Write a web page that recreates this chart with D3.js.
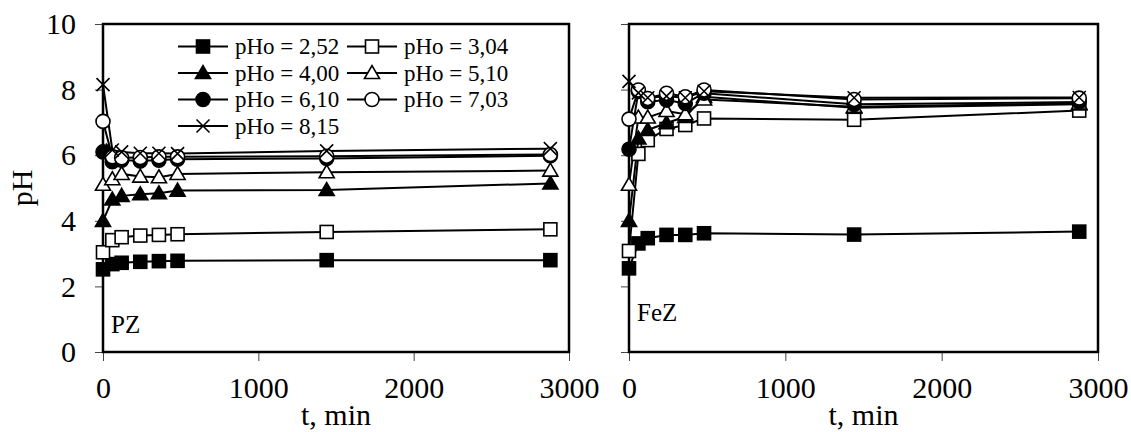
<html>
<head>
<title>pH vs time, PZ and FeZ</title>
<script src="https://cdn.jsdelivr.net/npm/d3@7/dist/d3.min.js"></script>
<style>
body { margin: 0; background: white; }
text { font-family: "Times New Roman", "Liberation Serif", Tinos, Times, serif; fill: black; }
</style>
</head>
<body>
<div id="svg"></div>
<script type="text/javascript">
// sampling times, min
var times = [0, 60, 120, 240, 360, 480, 1440, 2880];

var seriesLabels = ["pHo = 2,52", "pHo = 3,04", "pHo = 4,00", "pHo = 5,10", "pHo = 6,10", "pHo = 7,03", "pHo = 8,15"];
var markerTypes  = ["square", "square", "triangle", "triangle", "circle", "circle", "x"];
var markerFilled = [true, false, true, false, true, false, false];

// PZ panel, one row per series
var pzValues = [
	[2.52, 2.68, 2.72, 2.75, 2.77, 2.78, 2.80, 2.80],
	[3.04, 3.41, 3.50, 3.55, 3.57, 3.59, 3.66, 3.74],
	[4.00, 4.65, 4.76, 4.81, 4.84, 4.92, 4.94, 5.14],
	[5.10, 5.27, 5.43, 5.35, 5.33, 5.43, 5.48, 5.53],
	[6.10, 5.80, 5.85, 5.82, 5.85, 5.88, 5.90, 5.98],
	[7.03, 5.95, 5.92, 5.93, 5.95, 5.95, 5.97, 6.02],
	[8.15, 6.16, 6.10, 6.06, 6.06, 6.05, 6.13, 6.20]
];

// FeZ panel
var fezValues = [
	[2.55, 3.31, 3.47, 3.57, 3.57, 3.62, 3.58, 3.67],
	[3.08, 6.04, 6.46, 6.80, 6.92, 7.12, 7.08, 7.36],
	[4.00, 6.51, 6.77, 6.98, 7.17, 7.78, 7.45, 7.55],
	[5.10, 7.15, 7.15, 7.35, 7.25, 7.70, 7.48, 7.58],
	[6.18, 7.94, 7.63, 7.68, 7.58, 7.89, 7.55, 7.62],
	[7.10, 7.99, 7.73, 7.89, 7.78, 7.99, 7.70, 7.74],
	[8.25, 7.90, 7.75, 7.80, 7.75, 7.95, 7.75, 7.76]
];

var xTicks = [0, 1000, 2000, 3000];
var yTicks = [0, 2, 4, 6, 8, 10];

var chart = {
	"width": 1131,
	"height": 432,
	"top": 24,
	"bottom": 352,
	"panels": [
		{ "left": 103, "right": 569, "name": "PZ",  "labelY": 333, "values": pzValues,  "yLabels": true },
		{ "left": 629, "right": 1098, "name": "FeZ", "labelY": 321, "values": fezValues, "yLabels": false }
	],
	"font": "'Times New Roman', 'Liberation Serif', Tinos, Times, serif",
	"tick_font": 30,
	"legend_font": 23,
	"marker": 13,
	"legend": { "x": 178, "y": 46.5, "col": 169, "row": 26.5 }
};

var svg = d3.select("#svg").append("svg")
	.attr("width", chart.width)
	.attr("height", chart.height);

var y = d3.scaleLinear().domain([0, 10]).range([chart.bottom, chart.top]);

function drawMarker(g, type, filled) {
	var s = chart.marker;
	var m;
	if (type === "square") {
		m = g.append("rect").attr("x", -s / 2).attr("y", -s / 2).attr("width", s).attr("height", s);
	} else if (type === "circle") {
		m = g.append("circle").attr("r", s / 2 + 0.5);
	} else if (type === "triangle") {
		var h = s * 0.95;
		m = g.append("path").attr("d", "M0," + (-h * 0.6) + "L" + (s * 0.58) + "," + (h * 0.45) + "L" + (-s * 0.58) + "," + (h * 0.45) + "Z");
	} else {
		var a = s / 2;
		m = g.append("path").attr("d", "M" + (-a) + "," + (-a) + "L" + a + "," + a + "M" + (-a) + "," + a + "L" + a + "," + (-a));
		m.style("fill", "none").style("stroke", "black").style("stroke-width", 1.6);
		return;
	}
	m.style("fill", filled ? "black" : "white")
		.style("stroke", "black")
		.style("stroke-width", 1.6);
}

chart.panels.forEach(function(p) {
	var x = d3.scaleLinear().domain([0, 3000]).range([p.left, p.right]);

	var xAxis = svg.append("g")
		.attr("transform", "translate(0," + chart.bottom + ")")
		.call(d3.axisBottom(x).tickValues(xTicks).tickSize(9).tickPadding(16).tickFormat(d3.format("d")));
	var yAxis = svg.append("g")
		.attr("transform", "translate(" + p.left + ",0)")
		.call(d3.axisLeft(y).tickValues(yTicks).tickSize(8).tickPadding(19)
			.tickFormat(p.yLabels ? d3.format("d") : ""));

	[xAxis, yAxis].forEach(function(a) {
		a.select(".domain").remove();
		a.selectAll("line").style("stroke", "#444").style("stroke-width", 1);
		a.attr("font-family", null).attr("font-size", null);
		a.selectAll("text").style("font-size", chart.tick_font + "px")
			.style("font-family", chart.font).attr("fill", "black");
	});

	// plot box
	svg.append("rect")
		.attr("x", p.left).attr("y", chart.top)
		.attr("width", p.right - p.left).attr("height", chart.bottom - chart.top)
		.style("fill", "none").style("stroke", "black").style("stroke-width", 2.5);

	var line = d3.line()
		.x(function(d, i) { return x(times[i]); })
		.y(function(d) { return y(d); });

	p.values.forEach(function(vals, si) {
		svg.append("path")
			.datum(vals)
			.attr("d", line)
			.style("fill", "none")
			.style("stroke", "black")
			.style("stroke-width", 2);
	});

	p.values.forEach(function(vals, si) {
		vals.forEach(function(v, i) {
			var g = svg.append("g").attr("transform", "translate(" + x(times[i]) + "," + y(v) + ")");
			drawMarker(g, markerTypes[si], markerFilled[si]);
		});
	});

	svg.append("text")
		.attr("x", p.left + 8).attr("y", p.labelY)
		.style("font-size", "25px")
		.text(p.name);

	svg.append("text")
		.attr("x", (p.left + p.right) / 2).attr("y", 425)
		.attr("text-anchor", "middle")
		.style("font-size", chart.tick_font + "px")
		.text("t, min");
});

svg.append("text")
	.attr("transform", "translate(32," + ((chart.top + chart.bottom) / 2) + ") rotate(-90)")
	.attr("text-anchor", "middle")
	.style("font-size", chart.tick_font + "px")
	.text("pH");

// legend, two columns, row-major
var legend = svg.selectAll(".legend")
	.data(seriesLabels)
	.enter()
	.append("g")
	.attr("class", "legend")
	.attr("transform", function(d, i) {
		return "translate(" + (chart.legend.x + (i % 2) * chart.legend.col) + "," + (chart.legend.y + Math.floor(i / 2) * chart.legend.row) + ")";
	});

legend.append("line")
	.attr("x1", 0).attr("x2", 50).attr("y1", 0).attr("y2", 0)
	.style("stroke", "black").style("stroke-width", 2);

legend.each(function(d, i) {
	var g = d3.select(this).append("g").attr("transform", "translate(25,0)");
	drawMarker(g, markerTypes[i], markerFilled[i]);
});

legend.append("text")
	.attr("x", 57)
	.attr("y", 7.5)
	.style("font-size", chart.legend_font + "px")
	.text(function(d) { return d; });
</script>
</body>
</html>
